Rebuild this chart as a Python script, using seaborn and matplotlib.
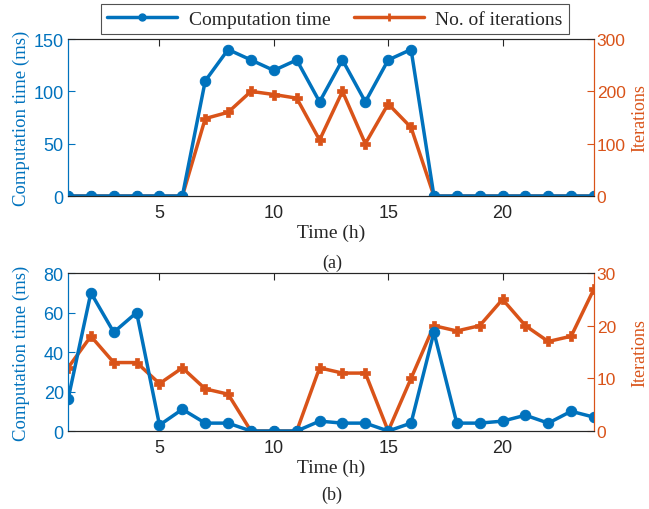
import matplotlib
matplotlib.use("Agg")
import matplotlib.pyplot as plt
import seaborn as sns
import pandas as pd
from matplotlib.lines import Line2D

hours = list(range(1, 25))
comp_a = [0, 0, 0, 0, 0, 0, 110, 140, 130, 120, 130, 90, 130, 90, 130, 140,
          0, 0, 0, 0, 0, 0, 0, 0]
iter_a = [0, 0, 0, 0, 0, 0, 148, 160, 200, 194, 187, 107, 200, 100, 176, 131,
          0, 0, 0, 0, 0, 0, 0, 0]
comp_b = [16, 70, 50, 60, 3, 11, 4, 4, 0, 0, 0, 5, 4, 4, 0, 4,
          50, 4, 4, 5, 8, 4, 10, 7]
iter_b = [12, 18, 13, 13, 9, 12, 8, 7, 0, 0, 0, 12, 11, 11, 0, 10,
          20, 19, 20, 25, 20, 17, 18, 27]
xticks = [5, 10, 15, 20]
left_ticks_a = [0, 50, 100, 150]
right_ticks_a = [0, 100, 200, 300]
left_ticks_b = [0, 20, 40, 60, 80]
right_ticks_b = [0, 10, 20, 30]

sns.set_style("white")
plt.rcParams["font.family"] = ["Liberation Sans", "DejaVu Sans"]

BLUE = "#0072BD"
ORANGE = "#D95319"
DARK = "#262626"
SERIF = "Liberation Serif"

fig = plt.figure(figsize=(6.49, 5.10), dpi=100)
ax_a = fig.add_axes([0.1048, 0.6137, 0.8105, 0.3078])
ax_b = fig.add_axes([0.1048, 0.1529, 0.8105, 0.3098])

def panel(ax, comp, iters, lt, rt):
    df = pd.DataFrame({"h": hours, "c": comp, "i": iters})
    sns.lineplot(data=df, x="h", y="c", ax=ax, color=BLUE, lw=2.5,
                 marker="o", markersize=7.5, markeredgecolor=BLUE)
    ax2 = ax.twinx()
    sns.lineplot(data=df, x="h", y="i", ax=ax2, color=ORANGE, lw=2.5,
                 marker="P", markersize=7.5, markeredgecolor=ORANGE,
                 markeredgewidth=0.5)
    ax.set_xlim(1, 24)
    ax.set_ylim(lt[0], lt[-1])
    ax2.set_ylim(rt[0], rt[-1])
    ax.set_xticks(xticks)
    ax.set_yticks(lt)
    ax2.set_yticks(rt)
    ax.set_xlabel("Time (h)", family=SERIF, fontsize=14, color=DARK, labelpad=2)
    ax.set_ylabel("Computation time (ms)", family=SERIF, fontsize=13.5, color=BLUE)
    ax2.set_ylabel("Iterations", family=SERIF, fontsize=13, color=ORANGE)
    ax.yaxis.set_label_coords(-0.0722, 0.5)
    ax2.yaxis.set_label_coords(1.071, 0.5)
    ax.tick_params(axis="x", direction="in", length=5, labelsize=13,
                   colors=DARK, top=True, pad=6, width=0.8)
    ax.tick_params(axis="y", direction="in", length=5, labelsize=13,
                   colors=BLUE, pad=3, width=0.8)
    ax2.tick_params(axis="y", direction="in", length=5, labelsize=12.5,
                    colors=ORANGE, pad=2, width=0.8)
    for a in (ax, ax2):
        for s in ("top", "bottom"):
            a.spines[s].set_color(DARK)
            a.spines[s].set_linewidth(0.8)
        a.spines["left"].set_color(BLUE)
        a.spines["right"].set_color(ORANGE)
        a.spines["left"].set_linewidth(0.8)
        a.spines["right"].set_linewidth(0.8)
    ax.set_zorder(ax2.get_zorder() + 1)
    ax.patch.set_visible(False)
    for a in (ax, ax2):
        if a.get_legend():
            a.get_legend().remove()
    return ax2

panel(ax_a, comp_a, iter_a, left_ticks_a, right_ticks_a)
panel(ax_b, comp_b, iter_b, left_ticks_b, right_ticks_b)

fig.text(332 / 649, 1 - 263 / 510, "(a)", family=SERIF, fontsize=13, ha="center", va="center", color=DARK)
fig.text(332 / 649, 1 - 495 / 510, "(b)", family=SERIF, fontsize=13, ha="center", va="center", color=DARK)

handles = [
    Line2D([], [], color=BLUE, lw=2.5, marker="o", markersize=5),
    Line2D([], [], color=ORANGE, lw=2.5, marker="+", markersize=6, markeredgewidth=2),
]
leg = fig.legend(handles, ["Computation time", "No. of iterations"], ncol=2,
                 loc="center", bbox_to_anchor=(335 / 649, 1 - 20 / 510),
                 prop={"family": SERIF, "size": 14}, frameon=True, fancybox=False,
                 edgecolor=DARK, handlelength=3.6, columnspacing=1.2,
                 borderpad=0.3, handletextpad=0.6)
leg.get_frame().set_linewidth(0.8)

fig.savefig("out.png", dpi=100)
